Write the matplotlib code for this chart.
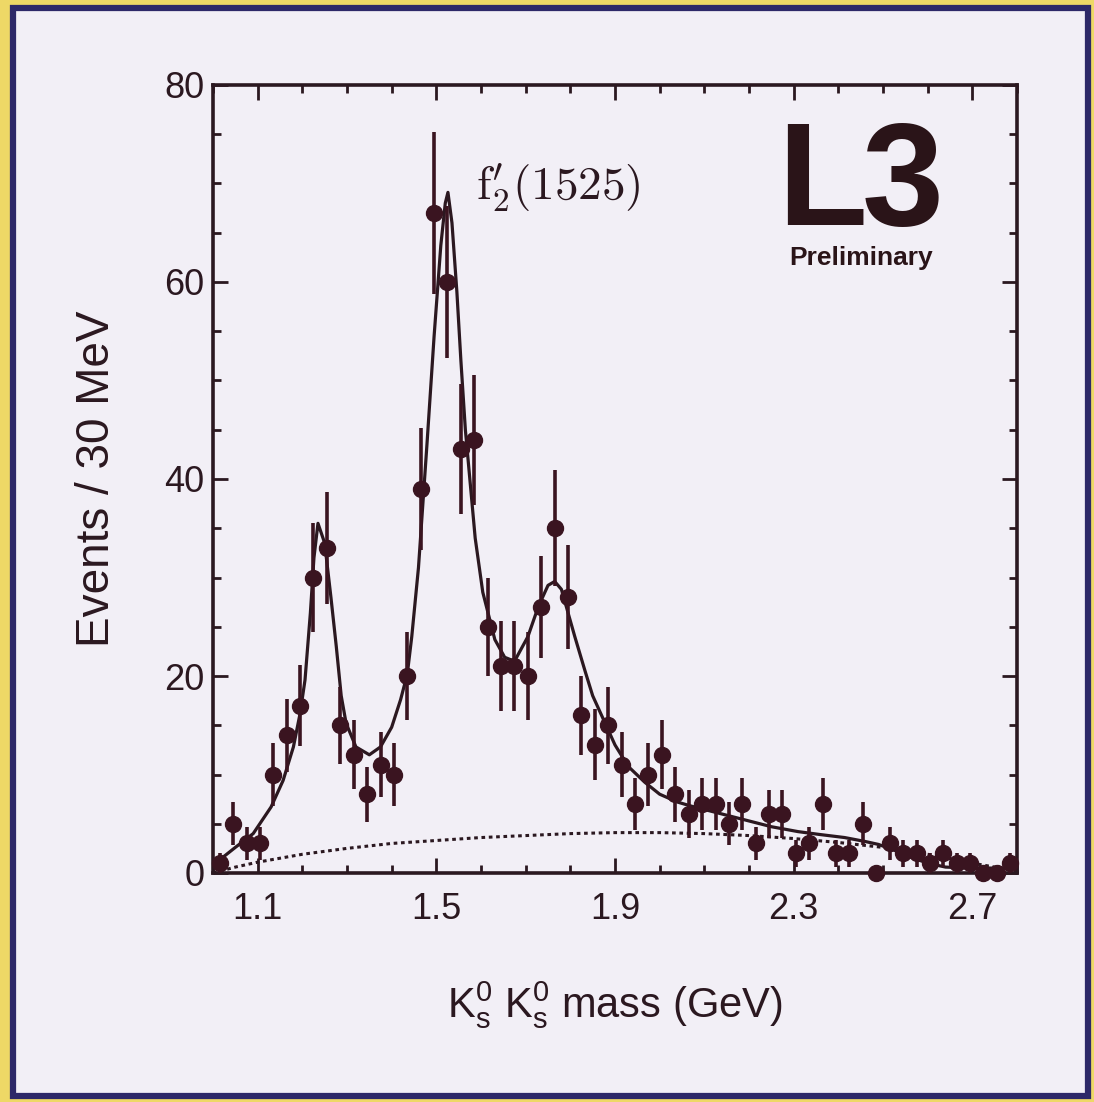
import matplotlib
matplotlib.use("Agg")
import matplotlib.pyplot as plt
from matplotlib.patches import Rectangle
from matplotlib.ticker import MultipleLocator
import numpy as np

# K0s K0s mass spectrum, 30 MeV bins from 1.0 to 2.8 GeV
bin_start = 1.0
bin_width = 0.03
counts = [1, 5, 3, 3, 10, 14, 17, 30, 33, 15,
          12, 8, 11, 10, 20, 39, 67, 60, 43, 44,
          25, 21, 21, 20, 27, 35, 28, 16, 13, 15,
          11, 7, 10, 12, 8, 6, 7, 7, 5, 7,
          3, 6, 6, 2, 3, 7, 2, 2, 5, 0,
          3, 2, 2, 1, 2, 1, 1, 0, 0, 1]
errors = [1.0, 2.2, 1.7, 1.7, 3.2, 3.7, 4.1, 5.5, 5.7, 3.9,
          3.5, 2.8, 3.3, 3.2, 4.5, 6.2, 8.2, 7.7, 6.6, 6.6,
          5.0, 4.6, 4.6, 4.5, 5.2, 5.9, 5.3, 4.0, 3.6, 3.9,
          3.3, 2.6, 3.2, 3.5, 2.8, 2.4, 2.6, 2.6, 2.2, 2.6,
          1.7, 2.4, 2.4, 1.4, 1.7, 2.6, 1.4, 1.4, 2.2, 0.0,
          1.7, 1.4, 1.4, 1.0, 1.4, 1.0, 1.0, 0.0, 0.0, 1.0]

# total fit
fit_mass = [1.00, 1.05, 1.09, 1.13, 1.157, 1.18, 1.195, 1.206, 1.218, 1.226,
            1.235, 1.25, 1.264, 1.276, 1.287, 1.298, 1.32, 1.35, 1.375, 1.40,
            1.42, 1.435, 1.445, 1.46, 1.479, 1.495, 1.51, 1.52, 1.526, 1.535,
            1.546, 1.555, 1.565, 1.575, 1.587, 1.604, 1.631, 1.653, 1.675, 1.705,
            1.728, 1.75, 1.765, 1.78, 1.795, 1.81, 1.833, 1.85, 1.87, 1.90,
            1.93, 1.967, 2.00, 2.04, 2.07, 2.13, 2.19, 2.25, 2.31, 2.36,
            2.414, 2.46, 2.49, 2.526, 2.562, 2.60, 2.64, 2.70, 2.79]
fit_val = [0.8, 2.6, 4.0, 6.7, 9.4, 12.8, 16.2, 19.6, 26.4, 32.0,
           35.5, 33.5, 28.0, 23.0, 18.0, 15.2, 12.8, 12.0, 12.8, 14.8,
           17.6, 20.2, 24.0, 31.0, 43.5, 54.5, 63.7, 68.0, 69.1, 66.0,
           59.0, 52.0, 45.0, 40.0, 34.0, 28.5, 23.7, 21.9, 21.5, 24.0,
           27.0, 29.2, 29.6, 28.8, 26.4, 24.0, 20.5, 18.0, 16.0, 13.0,
           10.8, 9.2, 8.0, 7.2, 6.8, 6.1, 5.4, 4.7, 4.2, 3.9,
           3.6, 3.2, 2.9, 2.3, 1.6, 1.0, 0.6, 0.5, 0.5]

# background (dotted)
bkg_mass = [1.0, 1.05, 1.1, 1.2, 1.3, 1.4, 1.5, 1.6, 1.7, 1.8,
            1.9, 2.0, 2.1, 2.2, 2.3, 2.4, 2.5, 2.6, 2.7, 2.8]
bkg_val = [0.0, 0.6, 1.1, 1.9, 2.5, 3.0, 3.3, 3.6, 3.8, 4.0,
           4.1, 4.1, 4.0, 3.8, 3.5, 3.1, 2.6, 1.9, 1.0, 0.2]

plt.rcParams["font.family"] = ["Liberation Sans", "DejaVu Sans"]
plt.rcParams["mathtext.fontset"] = "custom"
plt.rcParams["mathtext.rm"] = "Liberation Sans"
plt.rcParams["mathtext.it"] = "Liberation Sans:italic"
plt.rcParams["mathtext.bf"] = "Liberation Sans:bold"

ink = "#2b1820"
dot_col = "#3a1420"
lavender = "#f2eff6"

fig = plt.figure(figsize=(10.94, 11.02), dpi=100)
fig.patch.set_facecolor("#eed866")
# panel with dark frame
fig.patches.append(Rectangle((13 / 1094, 6 / 1102), 1075 / 1094, 1088 / 1102,
                             transform=fig.transFigure, facecolor=lavender,
                             edgecolor="#2d2868", linewidth=4.5, zorder=-5))

ax = fig.add_axes([213 / 1094, 229 / 1102, 804 / 1094, 788 / 1102])
ax.set_zorder(5)
ax.set_facecolor(lavender)

masses = bin_start + bin_width / 2 + bin_width * np.arange(len(counts))
ax.errorbar(masses, counts, yerr=errors, fmt="o", color=dot_col,
            markersize=11.5, elinewidth=2.6, capsize=0, zorder=4, clip_on=False)
ax.plot(fit_mass, fit_val, color=ink, linewidth=2.3, zorder=3)
ax.plot(bkg_mass, bkg_val, color=ink, linewidth=2.2, linestyle=(0, (1.2, 1.2)), zorder=3)

ax.set_xlim(1.0, 2.8)
ax.set_ylim(0, 80)
ax.set_xticks([1.1, 1.5, 1.9, 2.3, 2.7])
ax.set_xticklabels(["1.1", "1.5", "1.9", "2.3", "2.7"])
ax.xaxis.set_minor_locator(MultipleLocator(0.1))
ax.set_yticks([0, 20, 40, 60, 80])
ax.yaxis.set_minor_locator(MultipleLocator(5))
ax.tick_params(which="both", direction="in", top=True, right=True,
               color=ink, width=2.0, labelsize=26, labelcolor=ink)
ax.tick_params(which="major", length=11)
ax.tick_params(which="minor", length=6)
ax.tick_params(axis="x", which="major", pad=14)
ax.tick_params(axis="y", which="major", pad=6)
for sp in ax.spines.values():
    sp.set_color(ink)
    sp.set_linewidth(2.6)

xl = ax.set_xlabel(r"K$^0_\mathrm{s}$ K$^0_\mathrm{s}$ mass (GeV)", fontsize=30, color=ink)
xl.set_va("center")
ax.xaxis.set_label_coords(0.5, -0.167)
yl = ax.set_ylabel("Events / 30 MeV", fontsize=33, color=ink)
yl.set_va("center")
ax.yaxis.set_label_coords(-0.144, 0.5)

ax.text(1.772, 69.6, r"$\mathrm{f}_2^{\prime}(1525)$", fontsize=34, color=ink,
        ha="center", va="center", math_fontfamily="cm")
# L3 logo, letters set separately to keep them tight
ax.text(0.757, 0.822, "L", transform=ax.transAxes, fontsize=106, fontweight="bold",
        color="#2a1418", ha="center", va="baseline")
ax.text(0.858, 0.822, "3", transform=ax.transAxes, fontsize=106, fontweight="bold",
        color="#2a1418", ha="center", va="baseline")
ax.text(0.806, 0.781, "Preliminary", transform=ax.transAxes, fontsize=19,
        fontweight="bold", color="#2a1418", ha="center", va="center")

fig.savefig("out.png", dpi=100, facecolor=fig.get_facecolor())
